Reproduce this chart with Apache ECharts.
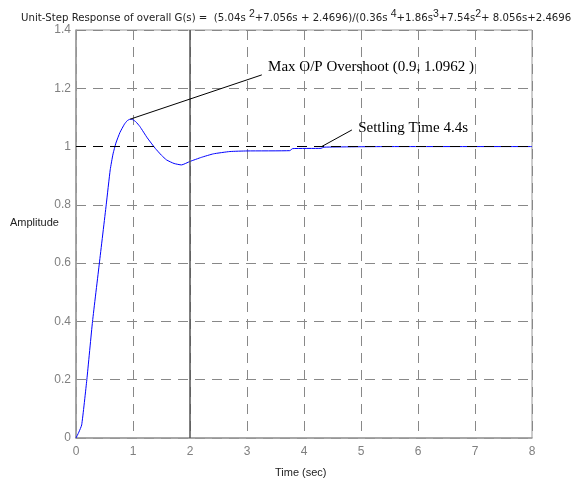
<!DOCTYPE html>
<html><head><meta charset="utf-8">
<script src="https://cdn.jsdelivr.net/npm/echarts@6/dist/echarts.min.js"></script>
<style>html,body{margin:0;padding:0;background:#fff}#c{width:571px;height:483px}</style>
</head><body><div id="c"></div>
<script>
var timeSec = [0, 0.05, 0.1, 0.19, 0.29, 0.41, 0.53, 0.6, 0.65, 0.7, 0.77, 0.85, 0.9, 0.95, 1.0, 1.05, 1.12, 1.25, 1.39, 1.5, 1.59, 1.72, 1.85, 2.0, 2.2, 2.41, 2.7, 3.0, 3.75, 3.8, 4.3, 4.35, 5.5, 8];
var amplitude = [0, 0.02, 0.045, 0.2, 0.4, 0.6, 0.8, 0.92, 0.975, 1.012, 1.048, 1.077, 1.089, 1.094, 1.092, 1.085, 1.069, 1.03, 0.994, 0.97, 0.954, 0.942, 0.937, 0.949, 0.963, 0.975, 0.983, 0.985, 0.986, 0.993, 0.994, 0.998, 1.0, 1.0];
var xTicks = [0, 1, 2, 3, 4, 5, 6, 7, 8];
var yTicks = [0, 0.2, 0.4, 0.6, 0.8, 1, 1.2, 1.4];
var peakPoint = [0.95, 1.094];
var peakLabelPoint = [3.26, 1.246];
var settlePoint = [4.31, 1.0];
var settleLabelPoint = [4.84, 1.057];
var peakText = 'Max O/P Overshoot (0.9, 1.0962 )';
var settleText = 'Settling Time 4.4s';
var markerTime = 2;

var chart = echarts.init(document.getElementById('c'));
var data = timeSec.map(function(t, i){ return [t, amplitude[i]]; });
var gridDash = {color: '#888', type: [10, 7], width: 1};
chart.setOption({
  animation: false,
  grid: {left: 76, top: 30, width: 456, height: 408, show: true, borderColor: '#9a9a9a', borderWidth: 1},
  xAxis: {type: 'value', min: xTicks[0], max: xTicks[xTicks.length-1], interval: 1,
    axisLine: {lineStyle: {color: '#9a9a9a', width: 1.5}}, axisTick: {show: false},
    axisLabel: {color: '#808080', fontSize: 12, fontFamily: 'Liberation Sans', margin: 8},
    splitLine: {show: true, lineStyle: gridDash}},
  yAxis: {type: 'value', min: yTicks[0], max: yTicks[yTicks.length-1], interval: 0.2,
    axisLine: {show: true, lineStyle: {color: '#9a9a9a', width: 1.5}}, axisTick: {show: false},
    axisLabel: {color: '#808080', fontSize: 12, fontFamily: 'Liberation Sans', margin: 5},
    splitLine: {show: true, lineStyle: gridDash}},
  series: [{
    type: 'line', data: data, showSymbol: false, smooth: 0.15,
    lineStyle: {color: '#0000ff', width: 1},
    markLine: {silent: true, symbol: 'none', label: {show: false},
      data: [
        [{coord: [0, 1], lineStyle: {color: '#000', type: [10, 7], width: 1}}, {coord: [8, 1]}],
        [{xAxis: markerTime, yAxis: 0, lineStyle: {color: '#555', type: 'solid', width: 1.5}}, {xAxis: markerTime, yAxis: 1.4}],
        [{coord: peakPoint, lineStyle: {color: '#000', type: 'solid', width: 1}}, {coord: peakLabelPoint}],
        [{coord: settlePoint, lineStyle: {color: '#000', type: 'solid', width: 1}}, {coord: settleLabelPoint}]
      ]},
    markPoint: {silent: true, symbol: 'circle', symbolSize: 0,
      data: [
        {coord: [3.37, 1.273], label: {show: true, position: 'right', distance: 0, formatter: peakText, color: '#000', fontSize: 15, fontFamily: 'Liberation Serif'}},
        {coord: [4.95, 1.064], label: {show: true, position: 'right', distance: 0, formatter: settleText, color: '#000', fontSize: 15, fontFamily: 'Liberation Serif'}}
      ]}
  }],
  graphic: [
    {type: 'text', left: 21, top: 9, style: {
      text: 'Unit-Step Response of overall G(s) =  (5.04s {s|2}+7.056s + 2.4696)/(0.36s {s|4}+1.86s{s|3}+7.54s{s|2}+ 8.056s+2.4696)',
      fill: '#222', font: '11.3px "Liberation Sans Narrow", "DejaVu Sans Condensed", sans-serif',
      rich: {s: {fontSize: 10.5, padding: [0, 0, 7, 0], verticalAlign: 'bottom'}}}},
    {type: 'text', left: 10, top: 217, style: {text: 'Amplitude', fill: '#222', font: '11px "Liberation Sans", sans-serif'}},
    {type: 'text', left: 275, top: 467, style: {text: 'Time (sec)', fill: '#222', font: '11px "Liberation Sans", sans-serif'}}
  ]
});
</script></body></html>
